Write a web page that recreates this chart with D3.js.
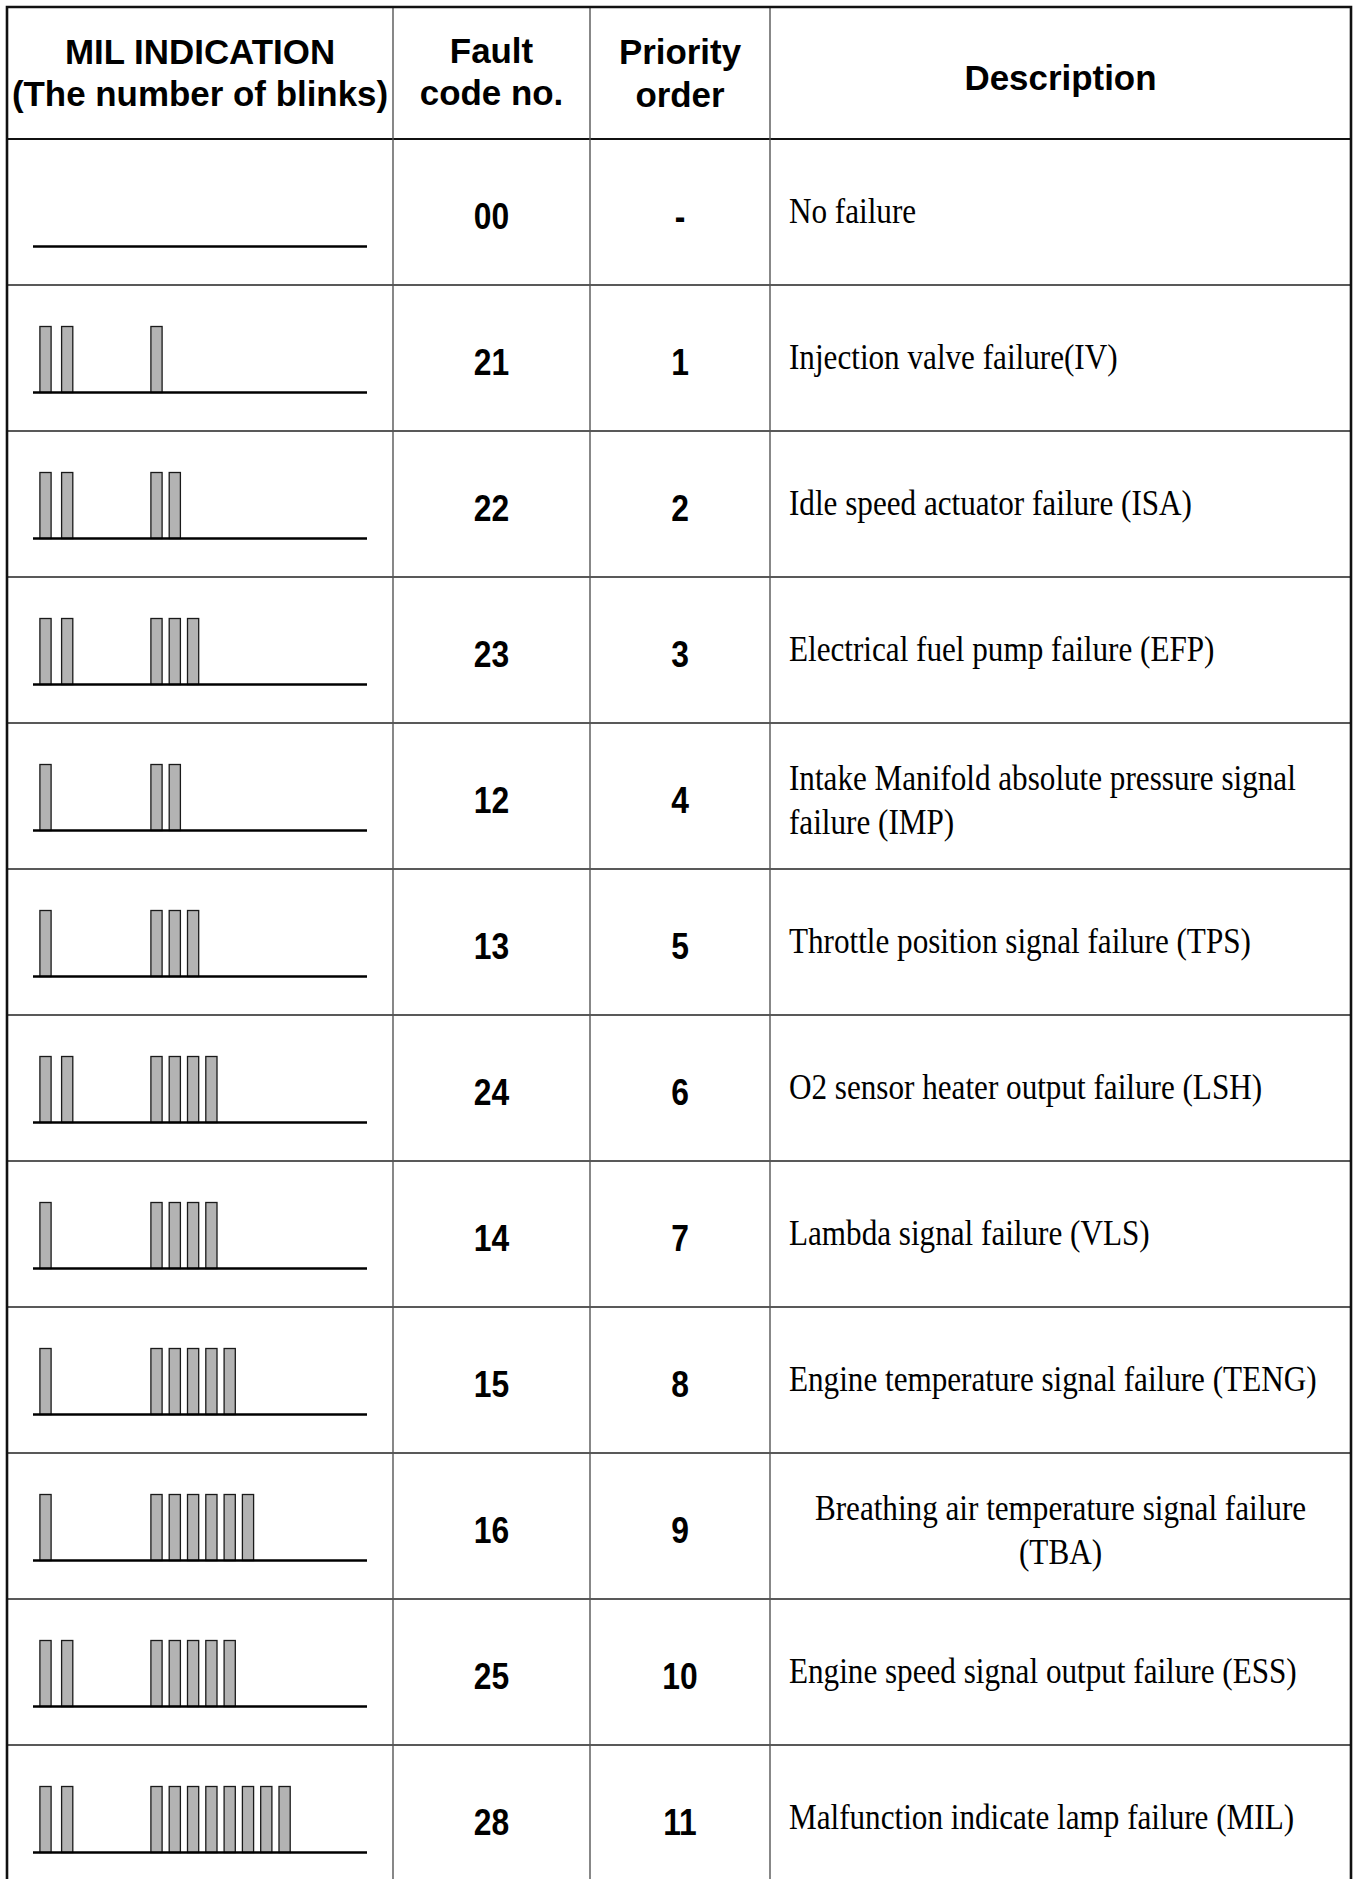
<!DOCTYPE html>
<html>
<head>
<meta charset="utf-8">
<script src="https://cdn.jsdelivr.net/npm/d3@7"></script>
<style>
  html, body { margin: 0; padding: 0; background: #fff; }
  svg { display: block; }
</style>
</head>
<body>
<svg id="chart" width="1355" height="1879"></svg>
<script>
// ---------- DATA ----------
const headers = [
  ["MIL INDICATION", "(The number of blinks)"],
  ["Fault", "code no."],
  ["Priority", "order"],
  ["Description"]
];
const codes = ["00", "21", "22", "23", "12", "13", "24", "14", "15", "16", "25", "28"];
const priorities = ["-", "1", "2", "3", "4", "5", "6", "7", "8", "9", "10", "11"];
const firstBlinks  = [0, 2, 2, 2, 1, 1, 2, 1, 1, 1, 2, 2];
const secondBlinks = [0, 1, 2, 3, 2, 3, 4, 4, 5, 6, 5, 8];
const descriptions = [
  ["No failure"],
  ["Injection valve failure(IV)"],
  ["Idle speed actuator failure (ISA)"],
  ["Electrical fuel pump failure (EFP)"],
  ["Intake Manifold absolute pressure signal", "failure (IMP)"],
  ["Throttle position signal failure (TPS)"],
  ["O2 sensor heater output failure (LSH)"],
  ["Lambda signal failure (VLS)"],
  ["Engine temperature signal failure (TENG)"],
  ["Breathing air temperature signal failure", "(TBA)"],
  ["Engine speed signal output failure (ESS)"],
  ["Malfunction indicate lamp failure (MIL)"]
];

// ---------- LAYOUT / STYLE ----------
const W = 1355, H = 1879;
const colEdges = [7, 393, 590, 770, 1351];
const headerTop = 7, headerBottom = 139, rowH = 146;
const centeredDescRows = new Set([9]);
const sansBold = "'Liberation Sans', Arial, Helvetica, sans-serif";
const serif = "'Liberation Serif', 'Times New Roman', Times, serif";

const svg = d3.select("#chart");

const rowIdx = d3.range(codes.length);
const y = d3.scaleBand()
  .domain(rowIdx)
  .range([headerBottom, headerBottom + rowH * codes.length])
  .paddingInner(0).paddingOuter(0);

const colCenter = i => (colEdges[i] + colEdges[i + 1]) / 2;

// blink x scales (slot index -> left edge of bar)
const xFirst  = d3.scaleLinear().domain([0, 1]).range([39.3, 61.0]);
const xSecond = d3.scaleLinear().domain([0, 1]).range([150.3, 168.6]);
const barW = 12.4, barH = 66, baseOffset = 107.5;
const baseX0 = 33, baseX1 = 367;

// ---------- GRID ----------
const grid = svg.append("g");
grid.selectAll("line.row")
  .data(rowIdx.slice(1))
  .join("line")
  .attr("x1", colEdges[0]).attr("x2", colEdges[4])
  .attr("y1", d => y(d)).attr("y2", d => y(d))
  .attr("stroke", "#222").attr("stroke-width", 1.4);
grid.append("line")
  .attr("x1", colEdges[0]).attr("x2", colEdges[4])
  .attr("y1", headerBottom).attr("y2", headerBottom)
  .attr("stroke", "#111").attr("stroke-width", 1.8);
grid.selectAll("line.col")
  .data(colEdges.slice(1, 4))
  .join("line")
  .attr("x1", d => d).attr("x2", d => d)
  .attr("y1", headerTop).attr("y2", H)
  .attr("stroke", "#555").attr("stroke-width", 1.4);
grid.append("path")
  .attr("d", `M${colEdges[0]},${H} L${colEdges[0]},${headerTop} L${colEdges[4]},${headerTop} L${colEdges[4]},${H}`)
  .attr("fill", "none").attr("stroke", "#111").attr("stroke-width", 2.6);

// ---------- HEADER ----------
const headerBaselines = [[64, 106], [63, 105], [64, 107], [90]];
const hdrScale = 0.97;
const hdr = svg.append("g")
  .attr("font-family", sansBold).attr("font-weight", "bold")
  .attr("font-size", 36).attr("fill", "#000").attr("text-anchor", "middle");
headers.forEach((lines, ci) => {
  hdr.selectAll(null)
    .data(lines)
    .join("text")
    .attr("transform", (d, li) => `translate(${colCenter(ci)},${headerBaselines[ci][li]}) scale(${hdrScale},1)`)
    .text(d => d);
});

// ---------- ROWS ----------
const rows = svg.selectAll("g.rowg")
  .data(rowIdx)
  .join("g")
  .attr("class", "rowg");

rows.each(function (i) {
  const g = d3.select(this);
  const base = y(i) + baseOffset;
  const bars = [
    ...d3.range(firstBlinks[i]).map(k => xFirst(k)),
    ...d3.range(secondBlinks[i]).map(k => xSecond(k))
  ];
  g.selectAll("rect")
    .data(bars)
    .join("rect")
    .attr("x", d => d + 0.6)
    .attr("y", base - barH)
    .attr("width", barW - 1.2)
    .attr("height", barH)
    .attr("fill", "#b3b3b3")
    .attr("stroke", "#1a1a1a")
    .attr("stroke-width", 1.3);
  g.append("line")
    .attr("x1", baseX0).attr("x2", baseX1)
    .attr("y1", base).attr("y2", base)
    .attr("stroke", "#000").attr("stroke-width", 2.6);
});

// fault code & priority
const numScale = 0.86, numSize = 37, numBaseOff = 16.5;
[[1, codes], [2, priorities]].forEach(([ci, arr]) => {
  rows.append("text")
    .attr("transform", i => `translate(${colCenter(ci)},${y(i) + rowH / 2 + numBaseOff}) scale(${numScale},1)`)
    .attr("text-anchor", "middle")
    .attr("font-family", sansBold).attr("font-weight", "bold")
    .attr("font-size", numSize)
    .text(i => arr[i]);
});

// descriptions
const descLeft = 789, descScale = 0.89, lineGap = 44;
rows.each(function (i) {
  const g = d3.select(this);
  const lines = descriptions[i];
  const centered = centeredDescRows.has(i);
  const cx = centered ? colCenter(3) : descLeft;
  const mid = y(i) + rowH / 2;
  const first = mid + 10.5 + (lines.length > 1 ? 5 : 0) - (lines.length - 1) * lineGap / 2;
  g.selectAll("text.desc")
    .data(lines)
    .join("text")
    .attr("class", "desc")
    .attr("transform", (d, li) => `translate(${cx},${first + li * lineGap}) scale(${descScale},1)`)
    .attr("text-anchor", centered ? "middle" : "start")
    .attr("font-family", serif)
    .attr("font-size", 35)
    .attr("fill", "#000")
    .text(d => d);
});
</script>
</body>
</html>
